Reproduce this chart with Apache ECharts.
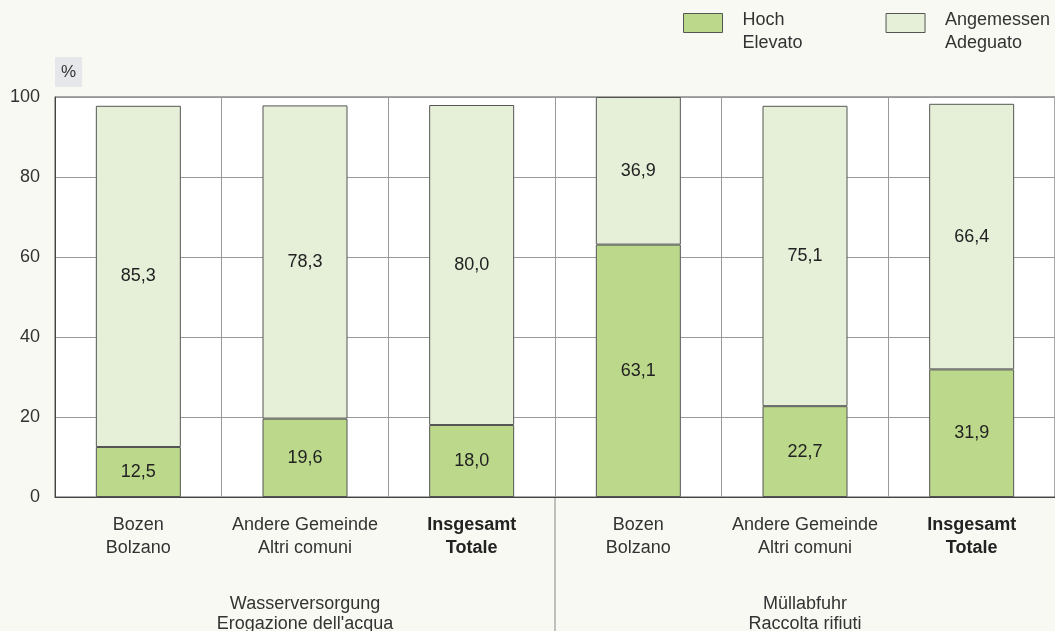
<!DOCTYPE html>
<html>
<head>
<meta charset="utf-8">
<script src="https://cdn.jsdelivr.net/npm/echarts@6/dist/echarts.min.js"></script>
<style>
  html, body { margin: 0; padding: 0; background: #f7f9f2; }
  #canvas { width: 1055px; height: 631px; }
</style>
</head>
<body>
<div id="canvas"></div>
<script>
// categories (bold ones are the totals)
var categories = ['Bozen\nBolzano', 'Andere Gemeinde\nAltri comuni', 'Insgesamt\nTotale',
                  'Bozen\nBolzano', 'Andere Gemeinde\nAltri comuni', 'Insgesamt\nTotale'];
var boldCats = [false, false, true, false, false, true];
var groups = ['Wasserversorgung\nErogazione dell\'acqua', 'Müllabfuhr\nRaccolta rifiuti'];
var hoch = [12.5, 19.6, 18.0, 63.1, 22.7, 31.9];
var angemessen = [85.3, 78.3, 80.0, 36.9, 75.1, 66.4];
var yTicks = [0, 20, 40, 60, 80, 100];

var myChart = echarts.init(document.getElementById('canvas'));

function fmt(v) {
    return v.toFixed(1).replace('.', ',');
}

var option = {
    backgroundColor: '#f7f9f2',
    animation: false,
    textStyle: { fontFamily: 'Liberation Sans, Arial, sans-serif' },
    grid: {
        left: 55, right: 0, top: 97, bottom: 134,
        outerBoundsMode: 'none',
        show: true, backgroundColor: '#fff', borderColor: '#555', borderWidth: 1
    },
    legend: {
        orient: 'horizontal',
        left: 683, top: -5, width: 420, padding: 0,
        itemWidth: 39, itemHeight: 19, itemGap: 83,
        icon: 'rect',
        itemStyle: { borderColor: '#555', borderWidth: 1 },
        data: ['Hoch\nElevato', 'Angemessen\nAdeguato'],
        formatter: function (name) {
            var p = name.split('\n');
            return '{s| }\n{a|' + p[0] + '}\n{a|' + p[1] + '}';
        },
        textStyle: {
            fontSize: 18, color: '#333',
            rich: {
                s: { fontSize: 10, lineHeight: 18 },
                a: { fontSize: 18, color: '#333', lineHeight: 23, padding: [0, 0, 0, 15] }
            }
        }
    },
    xAxis: [{
        type: 'category',
        data: categories,
        axisLine: { lineStyle: { color: '#444' } },
        axisTick: { show: false },
        splitLine: { show: true, interval: 0, lineStyle: { color: '#999' } },
        axisLabel: {
            interval: 0, margin: 17, fontSize: 18, color: '#333', lineHeight: 23,
            formatter: function (v, i) {
                if (boldCats[i]) {
                    return v.split('\n').map(function (s) { return '{b|' + s + '}'; }).join('\n');
                }
                return v;
            },
            rich: { b: { fontWeight: 'bold', fontSize: 18, color: '#222', lineHeight: 23 } }
        }
    }, {
        type: 'category',
        position: 'bottom',
        offset: 89,
        data: groups,
        axisLine: { show: false },
        axisTick: { show: false },
        axisLabel: { fontSize: 18, color: '#333', lineHeight: 20, margin: 8 }
    }],
    yAxis: {
        type: 'value',
        min: yTicks[0], max: yTicks[yTicks.length - 1], interval: 20,
        name: '%',
        nameLocation: 'end',
        nameGap: 10,
        nameTextStyle: {
            fontSize: 17, color: '#333', align: 'left', verticalAlign: 'bottom',
            backgroundColor: '#e5e7ea', padding: [7, 6, 6, 6]
        },
        axisLine: { show: true, lineStyle: { color: '#444' } },
        axisTick: { show: false },
        splitLine: { lineStyle: { color: '#999' } },
        axisLabel: { fontSize: 18, color: '#333', margin: 15 }
    },
    series: [{
        name: 'Hoch\nElevato',
        type: 'bar',
        stack: 'tot',
        barWidth: 85,
        data: hoch,
        itemStyle: { color: '#bcd98b', borderColor: '#555', borderWidth: 1 },
        label: { show: true, position: 'inside', fontSize: 18, color: '#222', formatter: function (p) { return fmt(p.value); } }
    }, {
        name: 'Angemessen\nAdeguato',
        type: 'bar',
        stack: 'tot',
        barWidth: 85,
        data: angemessen,
        itemStyle: { color: '#e6f0d8', borderColor: '#555', borderWidth: 1 },
        label: { show: true, position: 'inside', fontSize: 18, color: '#222', formatter: function (p) { return fmt(p.value); } }
    }]
};

myChart.setOption(option);

// separator between the two groups, below the axis
var sepX = (myChart.convertToPixel({ xAxisIndex: 0 }, 2) + myChart.convertToPixel({ xAxisIndex: 0 }, 3)) / 2;
var baseY = myChart.convertToPixel({ yAxisIndex: 0 }, 0);
myChart.setOption({
    graphic: [{
        type: 'line',
        shape: { x1: sepX, y1: baseY, x2: sepX, y2: 631 },
        style: { stroke: '#888', lineWidth: 1 }
    }]
});
</script>
</body>
</html>
